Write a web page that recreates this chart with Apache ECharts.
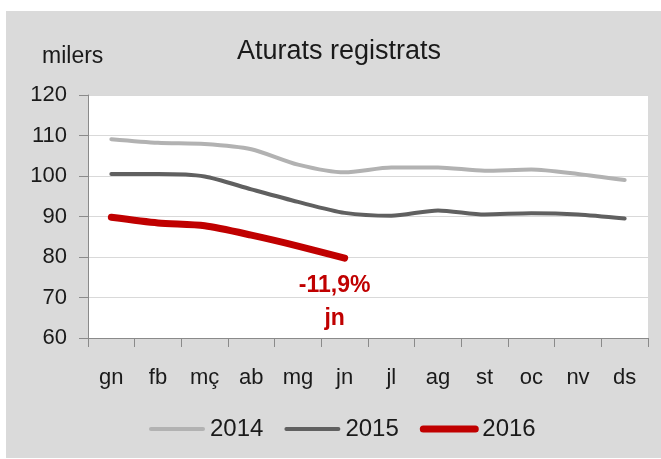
<!DOCTYPE html>
<html>
<head>
<meta charset="utf-8">
<script src="https://cdn.jsdelivr.net/npm/echarts@6/dist/echarts.min.js"></script>
<style>
html,body{margin:0;padding:0;background:#fff;}
#bg{position:absolute;left:6px;top:11px;width:655px;height:447px;background:#dadada;}
#chart{position:absolute;left:0;top:0;width:661px;height:459px;}
</style>
</head>
<body>
<div id="bg"></div>
<div id="chart"></div>
<script>
const months = ['gn','fb','mç','ab','mg','jn','jl','ag','st','oc','nv','ds'];
const s2014 = [109.1,108.2,107.9,106.6,102.8,100.9,102.1,102.1,101.3,101.6,100.5,99.0];
const s2015 = [100.5,100.5,99.9,96.7,93.6,90.9,90.2,91.5,90.5,90.8,90.5,89.5];
const s2016 = [89.8,88.4,87.7,85.4,82.7,79.7];
const yTicks = [60,70,80,90,100,110,120];
const annotation = '-11,9%\njn';

const FONT = 'Liberation Sans, Arial, sans-serif';
const hidden = {color: 'rgba(0,0,0,0)', borderWidth: 0, borderColor: 'rgba(0,0,0,0)'};
const chart = echarts.init(document.getElementById('chart'), null, {renderer:'canvas'});
chart.setOption({
  backgroundColor: 'transparent',
  animation: false,
  title: {
    text: 'Aturats registrats',
    left: 334, top: 33, textAlign: 'center',
    textStyle: {fontFamily: FONT, fontSize: 27, fontWeight: 'normal', color: '#1a1a1a'}
  },
  graphic: [{
    type: 'text', left: 42, top: 45,
    style: {text: 'milers', font: '23px ' + FONT, fill: '#1a1a1a'}
  }],
  legend: {
    left: 144, top: 412,
    itemWidth: 52, itemHeight: 14, itemGap: 21,
    textStyle: {fontFamily: FONT, fontSize: 24, color: '#1a1a1a', padding: [0,0,0,2]},
    data: [
      {name: '2014', lineStyle: {width: 4, cap: 'round'}, itemStyle: hidden},
      {name: '2015', lineStyle: {width: 4, cap: 'round'}, itemStyle: hidden},
      {name: '2016', lineStyle: {width: 7, cap: 'round'}, itemStyle: hidden}
    ]
  },
  grid: {left: 88, right: 13, top: 95, bottom: 121, show: true, backgroundColor: '#fff', borderWidth: 0},
  xAxis: {
    type: 'category', data: months, boundaryGap: true,
    axisLine: {lineStyle: {color: '#8a8a8a', width: 1}},
    axisTick: {show: true, length: 9, alignWithLabel: false, lineStyle: {color: '#8a8a8a'}},
    axisLabel: {fontFamily: FONT, fontSize: 22, color: '#1a1a1a', margin: 29, interval: 0}
  },
  yAxis: {
    type: 'value', min: yTicks[0], max: yTicks[yTicks.length-1], interval: 10,
    axisLine: {show: true, lineStyle: {color: '#8a8a8a', width: 1}},
    axisTick: {show: true, length: 9, lineStyle: {color: '#8a8a8a'}},
    axisLabel: {fontFamily: FONT, fontSize: 22, color: '#1a1a1a', margin: 21},
    splitLine: {lineStyle: {color: '#d9d9d9', width: 1}}
  },
  series: [
    {name: '2014', type: 'line', data: s2014, symbol: 'none', smooth: 0.25,
     lineStyle: {color: '#b2b2b2', width: 4, cap: 'round', join: 'round'}, itemStyle: {color: '#b2b2b2'}},
    {name: '2015', type: 'line', data: s2015, symbol: 'none', smooth: 0.25,
     lineStyle: {color: '#606060', width: 4, cap: 'round', join: 'round'}, itemStyle: {color: '#606060'}},
    {name: '2016', type: 'line', data: s2016, symbol: 'none', smooth: 0.25,
     lineStyle: {color: '#c00000', width: 7, cap: 'round', join: 'round'}, itemStyle: {color: '#c00000'},
     markPoint: {
       symbol: 'circle', symbolSize: 1, itemStyle: {color: 'rgba(0,0,0,0)'},
       data: [{coord: [5, s2016[5]]}],
       label: {show: true, position: 'inside', offset: [-10, 44], formatter: annotation,
         fontFamily: FONT, fontSize: 23, fontWeight: 'bold', color: '#c00000', lineHeight: 33, align: 'center'}
     }}
  ]
});
</script>
</body>
</html>
